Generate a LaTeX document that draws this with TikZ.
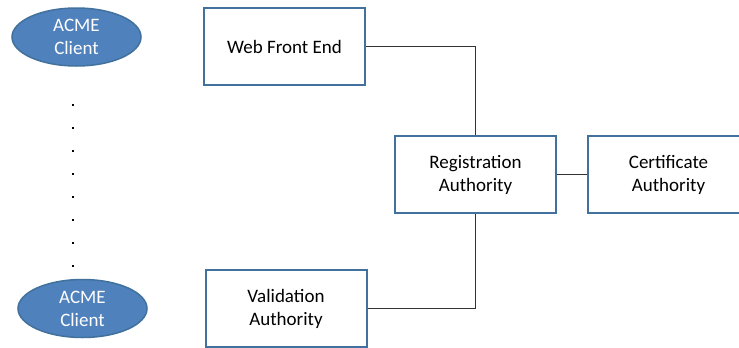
\documentclass[tikz,border=0pt]{standalone}
\usepackage{fontspec}
\setmainfont{Carlito}
\usetikzlibrary{shapes.geometric}
\definecolor{boxblue}{HTML}{41719C}
\definecolor{fillblue}{HTML}{4F81BD}
\begin{document}
\begin{tikzpicture}[x=1pt,y=-1pt,
  every node/.style={font=\fontsize{19}{23}\selectfont, align=center},
  comp/.style={draw=boxblue, line width=2pt, fill=white, minimum width=161pt, minimum height=77pt, inner sep=0pt},
  client/.style={ellipse, draw=boxblue, line width=1.5pt, fill=fillblue, text=white, minimum width=129pt, minimum height=58pt, inner sep=0pt},
  link/.style={draw=black!80, line width=1pt},
  dotmark/.style={fill=black, minimum size=2pt, inner sep=0pt}]
\useasboundingbox (0,0) rectangle (739,348);
\clip (0,0) rectangle (739,348);
\node[client] (c1) at (76.5,37) {ACME\\Client};
\node[client] (c2) at (82.5,308.5) {ACME\\Client};
\foreach \i/\y in {1/105,2/128,3/151,4/174,5/197,6/220,7/243,8/266}
  \node[dotmark] (d\i) at (73,\y) {};
\node[comp] (wfe) at (284.5,46.5) {Web Front End};
\node[comp] (va) at (286,308.5) {Validation\\Authority};
\node[comp] (ra) at (475.5,174.5) {Registration\\Authority};
\node[comp] (ca) at (668.5,174.5) {Certificate\\Authority};
\draw[link] (wfe.east) -| (ra.north);
\draw[link] (ra.south) |- (va.east);
\draw[link] (ra.east) -- (ca.west);
\end{tikzpicture}
\end{document}
